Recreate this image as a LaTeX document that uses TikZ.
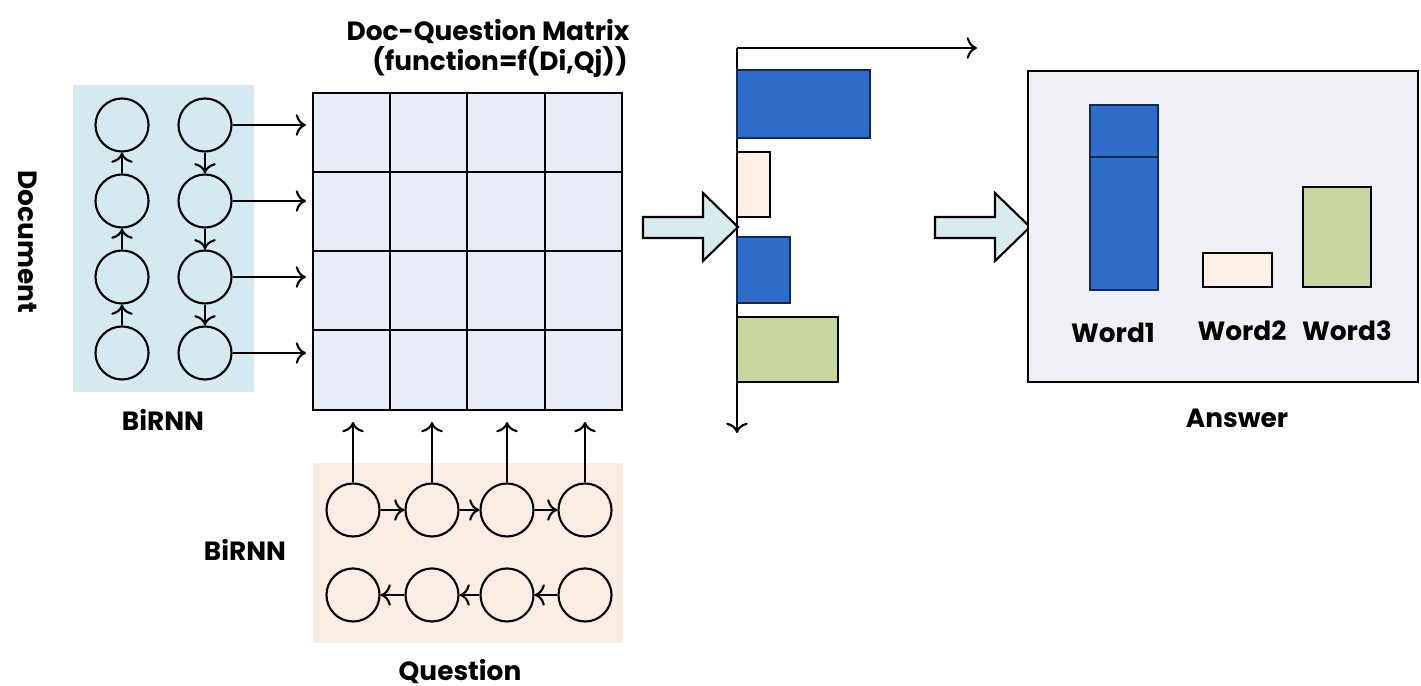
\documentclass[tikz,border=0pt]{standalone}
\usepackage{fontspec}
\setmainfont{Poppins}
\usetikzlibrary{arrows.meta}

\definecolor{docbg}{RGB}{212,234,240}
\definecolor{qbg}{RGB}{250,237,228}
\definecolor{matfill}{RGB}{232,236,246}
\definecolor{barblue}{RGB}{46,108,201}
\definecolor{barnavy}{RGB}{20,40,80}
\definecolor{barpeach}{RGB}{252,240,230}
\definecolor{bargreen}{RGB}{200,214,160}
\definecolor{ansbg}{RGB}{238,240,246}
\definecolor{arrfill}{RGB}{216,236,240}

\tikzset{
  rnn/.style={circle, draw, line width=0.6pt, minimum size=0.53cm, inner sep=0pt},
  lbl/.style={font=\fontsize{7.5}{9}\selectfont\bfseries},
  bar/.style={draw, line width=0.7pt},
  bigarrow/.style={draw, line width=0.6pt, fill=arrfill}
}

\begin{document}
\begin{tikzpicture}[>=To, x=0.01cm, y=-0.01cm, line width=0.6pt]
    \useasboundingbox (0,0) rectangle (1421,686);

    % Hintergrund Dokument / Frage
    \fill[docbg] (73,85) rectangle (254,392);
    \fill[qbg] (313,463) rectangle (623,643);

    % Dokument-BiRNN
    \foreach \i/\y in {1/125,2/201,3/277,4/353} {
        \node[rnn] (dl\i) at (122,\y) {};
        \node[rnn] (dr\i) at (205,\y) {};
        \coordinate (m\i) at (306,\y);
        \draw[->] (dr\i) -- (m\i);
    }
    \foreach \i/\j in {2/1,3/2,4/3} \draw[->] (dl\i) -- (dl\j);
    \foreach \i/\j in {1/2,2/3,3/4} \draw[->] (dr\i) -- (dr\j);

    \node[lbl, rotate=-90] (doc) at (28,242) {Document};
    \node[lbl] (dbirnn) at (163,420) {BiRNN};

    % Matrix Doc x Question
    \draw[fill=matfill] (313,93) rectangle (622,410);
    \foreach \x in {390,467,545} \draw (\x,93) -- (\x,410);
    \foreach \y in {172,251,330} \draw (313,\y) -- (622,\y);
    \node[lbl] (mtitle) at (488,32) {Doc-Question Matrix};
    \node[lbl] (mfunc) at (500,62) {(function=f(Di,Qj))};

    % Frage-BiRNN
    \foreach \i/\x in {1/353,2/432,3/507,4/585} {
        \node[rnn] (qf\i) at (\x,510) {};
        \node[rnn] (qb\i) at (\x,595) {};
        \coordinate (qa\i) at (\x,422);
        \draw[->] (qf\i) -- (qa\i);
    }
    \foreach \i/\j in {1/2,2/3,3/4} \draw[->] (qf\i) -- (qf\j);
    \foreach \i/\j in {2/1,3/2,4/3} \draw[->] (qb\i) -- (qb\j);

    \node[lbl] (qbirnn) at (245,550) {BiRNN};
    \node[lbl] (quest) at (460,672) {Question};

    % Pfeil 1
    \draw[bigarrow] (643,217) -- (703,217) -- (703,193) -- (738,227)
        -- (703,261) -- (703,238) -- (643,238) -- cycle;

    % Balken (Attention)
    \coordinate (o) at (737,48);
    \coordinate (xe) at (977,48);
    \coordinate (ye) at (737,433);
    \draw[->] (o) -- (xe);
    \draw[->] (o) -- (ye);
    \draw[bar, draw=barnavy, fill=barblue] (737,70) rectangle (870,138);
    \draw[bar, fill=barpeach] (737,152) rectangle (770,217);
    \draw[bar, draw=barnavy, fill=barblue] (737,237) rectangle (790,303);
    \draw[bar, fill=bargreen] (737,317) rectangle (838,382);

    % Pfeil 2
    \draw[bigarrow] (935,217) -- (995,217) -- (995,193) -- (1030,227)
        -- (995,261) -- (995,238) -- (935,238) -- cycle;

    % Antwort
    \draw[fill=ansbg] (1028,71) rectangle (1418,382);
    \draw[bar, draw=barnavy, fill=barblue] (1090,105) rectangle (1158,290);
    \draw[bar, draw=barnavy] (1090,157) -- (1158,157);
    \draw[bar, fill=barpeach] (1203,253) rectangle (1272,287);
    \draw[bar, fill=bargreen] (1303,187) rectangle (1371,287);

    \node[lbl] (w1) at (1113,333) {Word1};
    \node[lbl] (w2) at (1242,331) {Word2};
    \node[lbl] (w3) at (1347,331) {Word3};
    \node[lbl] (ans) at (1237,418) {Answer};
\end{tikzpicture}
\end{document}
